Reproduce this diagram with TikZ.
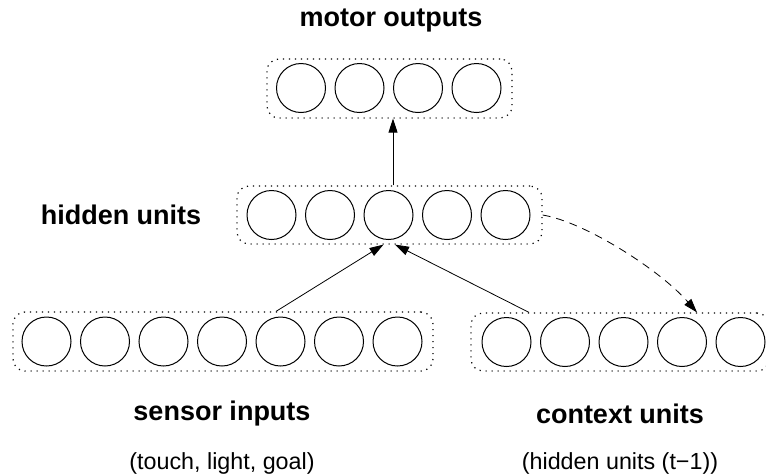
\documentclass[tikz,border=0pt]{standalone}
\usepackage{fontspec}
\setmainfont{Liberation Sans}
\usetikzlibrary{arrows.meta,calc}
\begin{document}
\begin{tikzpicture}[x=1pt,y=-1pt,
  unit/.style={circle,draw,line width=1pt,minimum size=49pt,inner sep=0pt},
  layerbox/.style={draw,rounded corners=12pt,line width=1.2pt,dash pattern=on 1.2pt off 4.8pt,inner sep=0pt},
  conn/.style={line width=0.8pt,-{Triangle[length=14pt,width=9pt]}},
  title/.style={font=\fontsize{27}{31}\selectfont\bfseries},
  sub/.style={font=\fontsize{23.3}{27}\selectfont}
]
\useasboundingbox (0,0) rectangle (766,475);
% layer boxes
\node[layerbox,minimum width=245pt,minimum height=59pt] (mbox) at (389.5,88.5) {};
\node[layerbox,minimum width=305pt,minimum height=58pt] (hbox) at (389.5,215) {};
\node[layerbox,minimum width=420pt,minimum height=59pt] (sbox) at (223,341.5) {};
\node[layerbox,minimum width=298pt,minimum height=58pt] (cbox) at (620,342) {};
% units
\foreach \i/\x in {1/301,2/359.5,3/418,4/476.5} \node[unit] (m\i) at (\x,88) {};
\foreach \i/\x in {1/271.5,2/330,3/388.5,4/447,5/505.5} \node[unit] (h\i) at (\x,215) {};
\foreach \i/\x in {1/46.5,2/105,3/163.5,4/222,5/280.5,6/339,7/397.5} \node[unit] (s\i) at (\x,341.5) {};
\foreach \i/\x in {1/506.5,2/565,3/623.5,4/682,5/740.5} \node[unit] (c\i) at (\x,342) {};
% connectors
\draw[conn] ($(h3 |- hbox.north)+(4.5,0)$) -- ($(h3 |- mbox.south)+(4.5,0)$);
\draw[conn] ($(s5 |- sbox.north)+(-4.5,0)$) -- ($(h3 |- hbox.south)+(-5,0)$);
\draw[conn] ($(c1 |- cbox.north)+(22.5,0)$) -- ($(h3 |- hbox.south)+(6.5,0)$);
\draw[conn,dash pattern=on 8pt off 6pt] (hbox.east) .. controls (585,222) and (660,270) .. ($(c4 |- cbox.north)+(15,0)$);
% labels
\node[title] (tm) at (391,20) {motor outputs};
\node[title] (th) at (121,215) {hidden units};
\node[title] (ts) at (222,414) {sensor inputs};
\node[title] (tc) at (620,414) {context units};
\node[sub] (ss) at (222,463) {(touch, light, goal)};
\node[sub] (sc) at (620,463) {(hidden units (t−1))};
\end{tikzpicture}
\end{document}
